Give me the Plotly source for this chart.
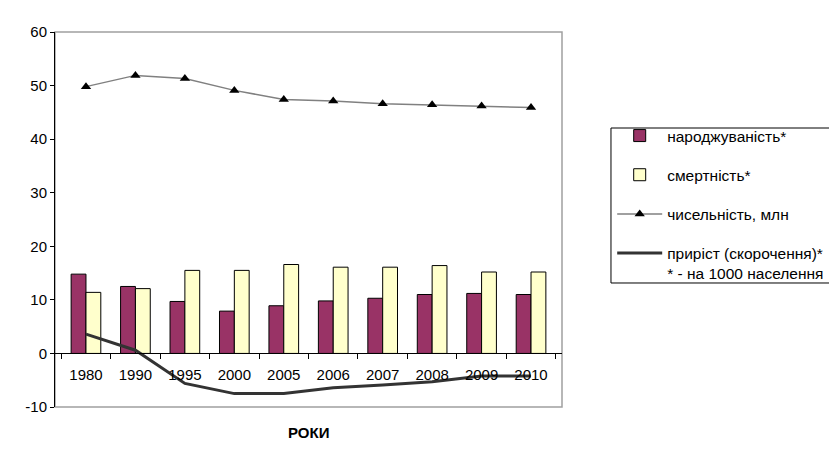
import plotly.graph_objects as go

years = ["1980", "1990", "1995", "2000", "2005", "2006", "2007", "2008", "2009", "2010"]
birth = [14.8, 12.5, 9.7, 7.9, 8.9, 9.8, 10.3, 11.0, 11.2, 11.0]
death = [11.4, 12.1, 15.5, 15.5, 16.6, 16.1, 16.1, 16.4, 15.2, 15.2]
population = [49.8, 51.9, 51.3, 49.1, 47.4, 47.1, 46.6, 46.4, 46.2, 45.9]
growth = [3.6, 0.6, -5.6, -7.5, -7.5, -6.4, -5.9, -5.3, -4.2, -4.2]

y_range = [-10, 60]
y_ticks = list(range(-10, 61, 10))
y_ticktext = [str(v) for v in y_ticks]
names = ["народжуваність*", "смертність*", "чисельність, млн",
         "приріст (скорочення)*<br>* - на 1000 населення"]

FONT = "Liberation Sans, Arial, sans-serif"
zero_pos = (0 - y_range[0]) / (y_range[1] - y_range[0])

fig = go.Figure()
fig.add_trace(go.Bar(x=years, y=birth, name=names[0], legendgroup="a",
                     marker=dict(color="#993366", line=dict(color="#000000", width=1))))
fig.add_trace(go.Bar(x=years, y=death, name=names[1], legendgroup="b",
                     marker=dict(color="#FFFFCC", line=dict(color="#000000", width=1))))
fig.add_trace(go.Scatter(x=years, y=population, name=names[2], legendgroup="c",
                         mode="lines+markers",
                         line=dict(color="#808080", width=1.5),
                         marker=dict(symbol="triangle-up", size=9, color="#000000")))
fig.add_trace(go.Scatter(x=years, y=growth, name=names[3], legendgroup="d",
                         mode="lines",
                         line=dict(color="#333333", width=3)))

n = len(years)
boundaries = [i + 0.5 for i in range(n - 1)]

yax_common = dict(range=y_range, tickmode="array", tickvals=y_ticks, ticktext=y_ticktext,
                  showgrid=False, zeroline=False, tickcolor="#000000")

fig.update_layout(
    width=920, height=447,
    margin=dict(l=47, r=366, t=24, b=48),
    paper_bgcolor="white", plot_bgcolor="white",
    font=dict(family=FONT, size=15, color="#000000"),
    barmode="group", bargap=0.4, bargroupgap=0,
    showlegend=True,
    legend=dict(x=1.099, xanchor="left", y=0.768, yanchor="top",
                borderwidth=0, bgcolor="rgba(0,0,0,0)",
                font=dict(family=FONT, size=15.5, color="#000000"),
                traceorder="grouped", tracegroupgap=16, itemwidth=45,
                valign="top"),
    xaxis=dict(type="category", anchor="free", position=zero_pos,
               showline=True, linecolor="#000000", linewidth=1,
               ticks="outside", ticklen=5, tickcolor="#000000", tickson="boundaries",
               ticklabelstandoff=8,
               tickfont=dict(family=FONT, size=15, color="#000000"),
               showgrid=False, zeroline=False),
    xaxis2=dict(overlaying="x", anchor="free", position=zero_pos,
                range=[-0.5, n - 0.5], tickmode="array", tickvals=boundaries,
                ticks="inside", ticklen=5, tickcolor="#000000",
                showticklabels=False, showline=False, showgrid=False, zeroline=False),
    yaxis=dict(anchor="x", showline=True, linecolor="#000000", linewidth=1,
               ticks="outside", ticklen=4,
               tickfont=dict(family=FONT, size=15, color="#000000"), **yax_common),
    yaxis2=dict(overlaying="y", side="left", anchor="x", ticks="inside", ticklen=4,
                showticklabels=False, showline=False, **yax_common),
    yaxis3=dict(overlaying="y", side="right", anchor="x", ticks="outside", ticklen=4,
                showline=True, linecolor="#000000", linewidth=1,
                showticklabels=False, **yax_common),
    yaxis4=dict(overlaying="y", side="right", anchor="x", ticks="inside", ticklen=4,
                showticklabels=False, showline=False, **yax_common),
    annotations=[dict(text="<b>РОКИ</b>", xref="paper", yref="paper",
                      x=0.5, y=-0.068, xanchor="center", yanchor="middle",
                      showarrow=False, font=dict(family=FONT, size=15, color="#000000"))],
    shapes=[
        dict(type="rect", xref="paper", yref="paper", x0=0, x1=1, y0=0, y1=1,
             line=dict(color="#A0A0A0", width=1.5), layer="below"),
        dict(type="rect", xref="paper", yref="paper", x0=-0.0947, x1=1.56,
             y0=-0.17, y1=1.069, line=dict(color="#404040", width=1.5), layer="below"),
        dict(type="rect", xref="paper", yref="paper", x0=1.0966, x1=1.545,
             y0=0.3307, y1=0.744, line=dict(color="#000000", width=1), layer="below"),
    ],
)

fig.write_html("out.html")
